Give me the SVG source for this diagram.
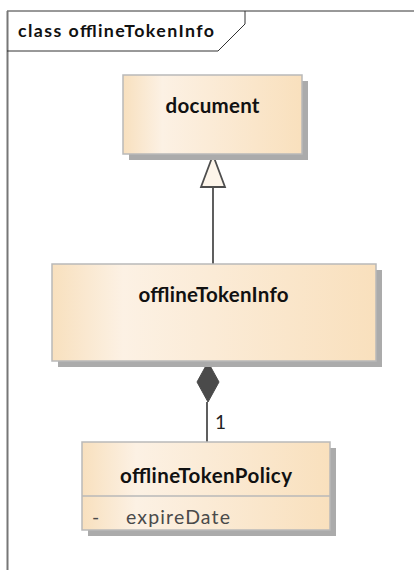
<svg xmlns="http://www.w3.org/2000/svg" width="414" height="570" viewBox="0 0 414 570">
  <defs>
    <linearGradient id="classFill" x1="0" y1="0" x2="1" y2="0">
      <stop offset="0" stop-color="#f8e0be"/>
      <stop offset="0.22" stop-color="#fcf1e4"/>
      <stop offset="1" stop-color="#f9e0bd"/>
    </linearGradient>
    <style>
      .frame { fill: none; stroke: #333333; stroke-width: 1; }
      .shadow { fill: #ababab; }
      .box { fill: url(#classFill); stroke: #b9b9b9; stroke-width: 1.5; }
      .sep { stroke: #b9b9b9; stroke-width: 1.5; }
      .name { font-family: Lato, "Open Sans", "Liberation Sans", sans-serif; font-weight: bold; font-size: 20.5px; fill: #111111; text-anchor: middle; }
      .attr { font-family: Lato, "Open Sans", "Liberation Sans", sans-serif; font-size: 19.5px; fill: #4a4a4a; }
      .title { font-family: Lato, "Open Sans", "Liberation Sans", sans-serif; font-weight: bold; font-size: 17.8px; fill: #111111; }
      .conn { stroke: #4d4d4d; stroke-width: 1.8; fill: none; }
      .label { font-family: Lato, "Open Sans", "Liberation Sans", sans-serif; font-size: 19px; fill: #222222; }
    </style>
  </defs>

  <!-- diagram frame -->
  <g id="frame">
    <line x1="7" y1="11" x2="414" y2="11" class="frame"/>
    <line x1="7.5" y1="11" x2="7.5" y2="570" stroke="#777777" stroke-width="2"/>
    <polyline points="7,51 218,51 245,24 245,11" class="frame"/>
    <text x="18" y="37" class="title" textLength="196">class offlineTokenInfo</text>
  </g>

  <!-- connectors -->
  <g id="connectors">
    <!-- generalization: offlineTokenInfo -> document -->
    <line x1="213" y1="264" x2="213" y2="187" class="conn"/>
    <polygon points="213,155 201,187 225,187" fill="#fdf5ea" stroke="#4d4d4d" stroke-width="1.8"/>
    <!-- composition: offlineTokenInfo owns offlineTokenPolicy -->
    <line x1="207" y1="402" x2="207" y2="442" class="conn"/>
    <polygon points="208,362 219,382 208,402 197,382" fill="#4a4a4a" stroke="#4a4a4a" stroke-width="1"/>
    <text x="215" y="429" class="label">1</text>
  </g>

  <!-- class: document -->
  <g id="document">
    <rect x="129" y="81" width="179" height="79" class="shadow"/>
    <rect x="123" y="75" width="179" height="79" class="box"/>
    <text x="212.5" y="113" class="name" textLength="94">document</text>
  </g>

  <!-- class: offlineTokenInfo -->
  <g id="offlineTokenInfo">
    <rect x="58" y="270" width="324" height="97" class="shadow"/>
    <rect x="52" y="264" width="324" height="97" class="box"/>
    <text x="213.5" y="302" class="name" textLength="150">offlineTokenInfo</text>
  </g>

  <!-- class: offlineTokenPolicy -->
  <g id="offlineTokenPolicy">
    <rect x="88" y="448" width="248" height="88" class="shadow"/>
    <rect x="82" y="442" width="248" height="88" class="box"/>
    <line x1="82" y1="496" x2="330" y2="496" class="sep"/>
    <text x="206" y="483" class="name" textLength="172">offlineTokenPolicy</text>
    <text x="92" y="524" class="attr">-</text>
    <text x="126" y="524" class="attr" textLength="104">expireDate</text>
  </g>
</svg>
